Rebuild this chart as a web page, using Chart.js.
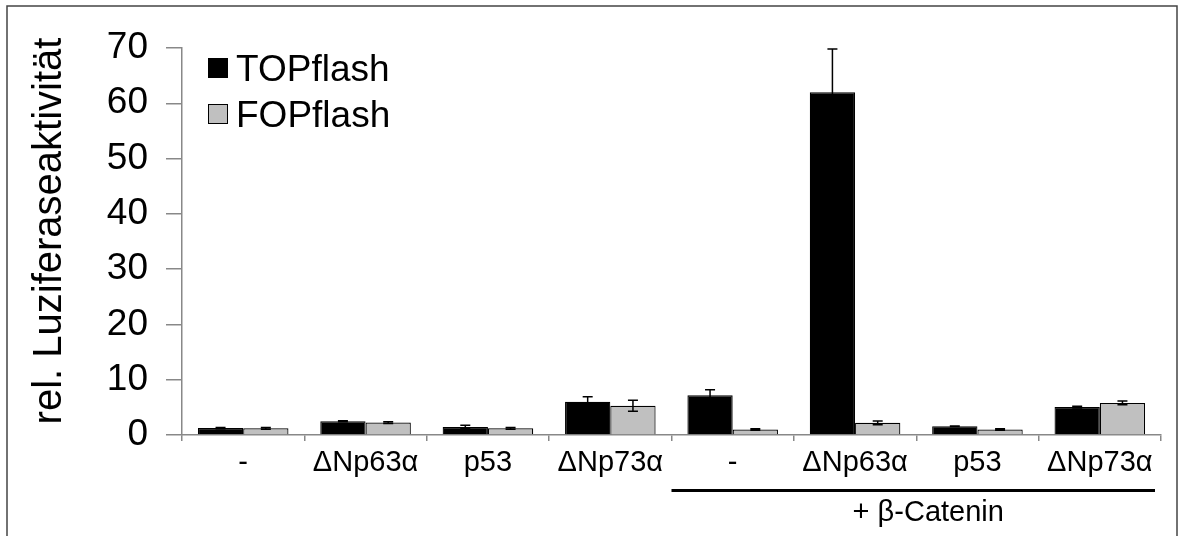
<!DOCTYPE html>
<html>
<head>
<meta charset="utf-8">
<script src="https://cdn.jsdelivr.net/npm/chart.js@4"></script>
<style>
  html, body { margin: 0; padding: 0; background: #fff; }
  #wrap { width: 1181px; height: 536px; }
</style>
</head>
<body>
<div id="wrap"><canvas id="lucChart" width="1181" height="536"></canvas></div>
<script>
const categories = ['-', 'ΔNp63α', 'p53', 'ΔNp73α', '-', 'ΔNp63α', 'p53', 'ΔNp73α'];
const topflash = [1.25, 2.5, 1.45, 6.0, 7.2, 62, 1.6, 5.05];
const topflashErr = [0.1, 0.1, 0.3, 0.9, 1.0, 7.8, 0.05, 0.15];
const fopflash = [1.2, 2.25, 1.2, 5.3, 1.0, 2.2, 1.0, 5.8];
const fopflashErr = [0.15, 0.15, 0.15, 1.0, 0.15, 0.35, 0.15, 0.35];
const yTicks = [0, 10, 20, 30, 40, 50, 60, 70];
const yTitle = 'rel. Luziferaseaktivität';
const bracketLabel = '+ β-Catenin';
const bracketFrom = 4; // first category under the bracket

const FONT = "'Liberation Sans', Arial, sans-serif";

// error bars on top of each bar
const errorBars = {
  id: 'errorBars',
  afterDatasetsDraw(chart) {
    const ctx = chart.ctx;
    const y = chart.scales.y;
    ctx.save();
    ctx.strokeStyle = '#000';
    ctx.lineWidth = 1.5;
    chart.data.datasets.forEach((ds, di) => {
      const meta = chart.getDatasetMeta(di);
      meta.data.forEach((bar, i) => {
        const v = ds.data[i], e = ds.errors[i];
        const yHi = y.getPixelForValue(v + e);
        const yLo = y.getPixelForValue(v - e);
        ctx.beginPath();
        ctx.moveTo(bar.x, yHi); ctx.lineTo(bar.x, yLo);
        ctx.moveTo(bar.x - 5, yHi); ctx.lineTo(bar.x + 5, yHi);
        ctx.moveTo(bar.x - 5, yLo); ctx.lineTo(bar.x + 5, yLo);
        ctx.stroke();
      });
    });
    ctx.restore();
  }
};

// legend, axis title, bracket and outer frame
const extras = {
  id: 'extras',
  afterDraw(chart) {
    const ctx = chart.ctx;
    const x = chart.scales.x;
    ctx.save();

    // frame
    ctx.strokeStyle = '#444';
    ctx.lineWidth = 1.5;
    ctx.beginPath();
    ctx.moveTo(7, 540); ctx.lineTo(7, 6); ctx.lineTo(1177, 6); ctx.lineTo(1177, 540);
    ctx.stroke();

    // y title
    ctx.save();
    ctx.translate(50, 231);
    ctx.rotate(-Math.PI / 2);
    ctx.font = '40px ' + FONT;
    ctx.textAlign = 'center';
    ctx.textBaseline = 'middle';
    ctx.fillStyle = '#000';
    ctx.fillText(yTitle, 0, 0);
    ctx.restore();

    // legend
    ctx.font = '37px ' + FONT;
    ctx.textBaseline = 'middle';
    ctx.textAlign = 'left';
    chart.data.datasets.forEach((ds, i) => {
      const cy = 68 + i * 46;
      ctx.fillStyle = ds.backgroundColor;
      ctx.fillRect(208, cy - 10, 20, 20);
      ctx.strokeStyle = '#000';
      ctx.lineWidth = 1;
      ctx.strokeRect(208.5, cy - 9.5, 19, 19);
      ctx.fillStyle = '#000';
      ctx.fillText(ds.label, 236, cy + 3);
    });

    // bracket under the beta-catenin groups
    const half = (x.getPixelForValue(1) - x.getPixelForValue(0)) / 2;
    const x0 = x.getPixelForValue(bracketFrom) - half;
    const x1 = x.getPixelForValue(categories.length - 1) + half - 6;
    ctx.strokeStyle = '#000';
    ctx.lineWidth = 3;
    ctx.beginPath();
    ctx.moveTo(x0, 490.5); ctx.lineTo(x1, 490.5);
    ctx.stroke();
    ctx.font = '29px ' + FONT;
    ctx.textAlign = 'center';
    ctx.fillStyle = '#000';
    ctx.fillText(bracketLabel, (x0 + x1) / 2 + 15, 513);
    ctx.restore();
  }
};

const ctx = document.getElementById('lucChart').getContext('2d');
new Chart(ctx, {
  type: 'bar',
  data: {
    labels: categories,
    datasets: [
      {
        label: 'TOPflash',
        data: topflash,
        errors: topflashErr,
        backgroundColor: '#000000',
        borderColor: '#000000',
        borderWidth: 1.2,
        categoryPercentage: 0.74,
        barPercentage: 1.0,
      },
      {
        label: 'FOPflash',
        data: fopflash,
        errors: fopflashErr,
        backgroundColor: '#c0c0c0',
        borderColor: '#000000',
        borderWidth: 1.2,
        categoryPercentage: 0.74,
        barPercentage: 1.0,
      },
    ],
  },
  options: {
    responsive: false,
    animation: false,
    devicePixelRatio: 1,
    layout: { padding: { left: 0, top: 48, right: 20, bottom: 0 } },
    plugins: {
      legend: { display: false },
      tooltip: { enabled: false },
    },
    scales: {
      x: {
        grid: { offset: true, drawOnChartArea: false, tickLength: 6, color: '#888', lineWidth: 1.5 },
        border: { color: '#888', width: 1.5 },
        ticks: { color: '#000', font: { size: 29, family: FONT }, padding: 5, maxRotation: 0, autoSkip: false },
        afterFit: (s) => { s.height = 101; },
      },
      y: {
        min: 0,
        max: 70,
        afterBuildTicks: (s) => { s.ticks = yTicks.map((v) => ({ value: v })); },
        grid: { drawOnChartArea: false, tickLength: 16, color: '#888', lineWidth: 1.5 },
        border: { color: '#888', width: 1.5 },
        ticks: { color: '#000', font: { size: 37, family: FONT }, padding: 18 },
        afterFit: (s) => { s.width = 182; },
      },
    },
  },
  plugins: [errorBars, extras],
});
</script>
</body>
</html>
